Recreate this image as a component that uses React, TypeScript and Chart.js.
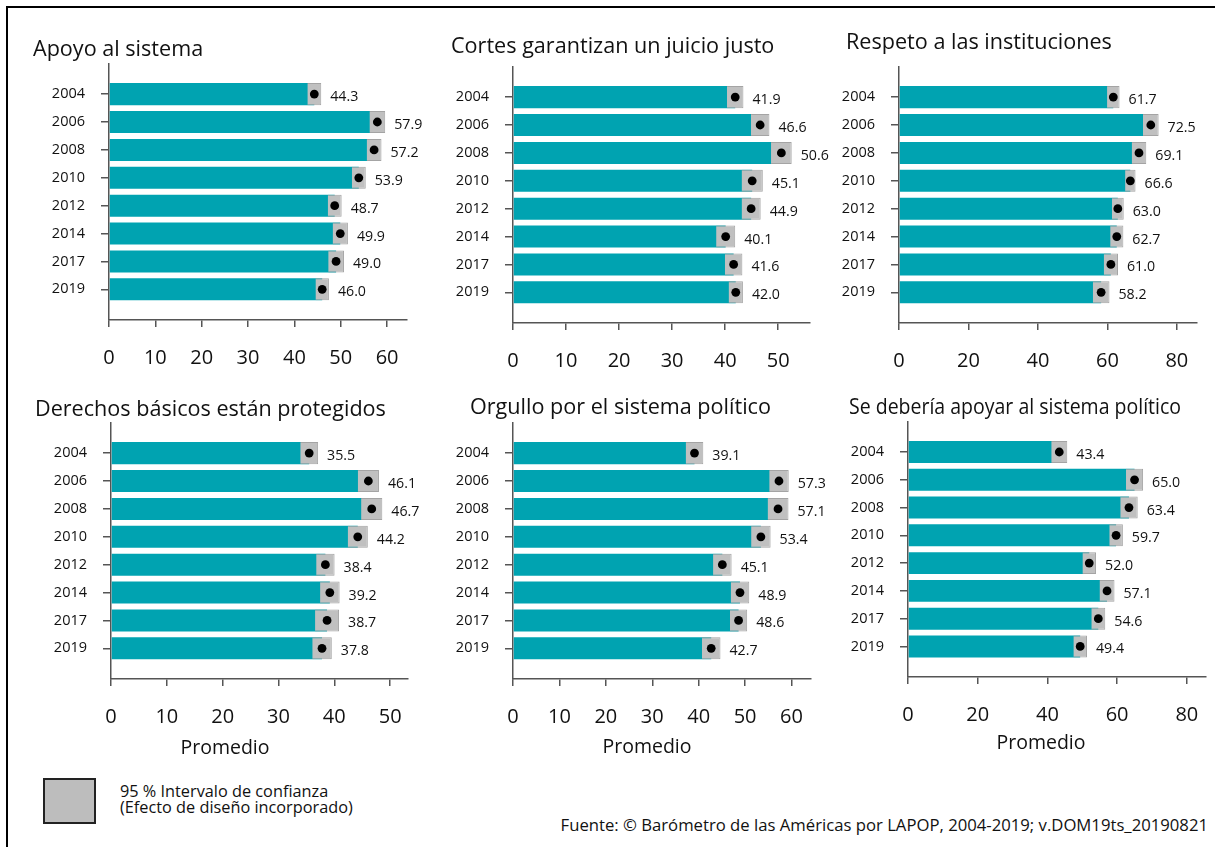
import React, { useEffect, useRef } from 'react';
import { Chart, registerables } from 'chart.js';

Chart.register(...registerables);

const FONT = '"Open Sans", "DejaVu Sans", sans-serif';
Chart.defaults.font.family = FONT;

// ---------- data ----------
const YEARS = ['2004', '2006', '2008', '2010', '2012', '2014', '2017', '2019'];

const APOYO = [44.3, 57.9, 57.2, 53.9, 48.7, 49.9, 49.0, 46.0];
const APOYO_ERR = [1.5, 1.7, 1.6, 1.5, 1.5, 1.65, 1.7, 1.45];

const CORTES = [41.9, 46.6, 50.6, 45.1, 44.9, 40.1, 41.6, 42.0];
const CORTES_ERR = [1.55, 1.75, 1.95, 2.0, 1.8, 1.8, 1.65, 1.35];

const RESPETO = [61.7, 72.5, 69.1, 66.6, 63.0, 62.7, 61.0, 58.2];
const RESPETO_ERR = [1.8, 2.25, 2.1, 1.5, 1.7, 1.9, 2.05, 2.4];

const DERECHOS = [35.5, 46.1, 46.7, 44.2, 38.4, 39.2, 38.7, 37.8];
const DERECHOS_ERR = [1.6, 1.9, 1.9, 1.8, 1.65, 1.75, 2.15, 1.75];

const ORGULLO = [39.1, 57.3, 57.1, 53.4, 45.1, 48.9, 48.6, 42.7];
const ORGULLO_ERR = [1.9, 2.1, 2.25, 2.1, 2.0, 2.0, 1.85, 2.0];

const DEBERIA = [43.4, 65.0, 63.4, 59.7, 52.0, 57.1, 54.6, 49.4];
const DEBERIA_ERR = [2.3, 2.45, 2.5, 1.95, 1.95, 2.15, 2.0, 1.95];

const TICKS_60 = [0, 10, 20, 30, 40, 50, 60];
const TICKS_50 = [0, 10, 20, 30, 40, 50];
const TICKS_80 = [0, 20, 40, 60, 80];

const X_TITLE = 'Promedio';
const LEGEND_TEXT = ['95 % Intervalo de confianza', '(Efecto de diseño incorporado)'];
const SOURCE = 'Fuente: © Barómetro de las Américas por LAPOP, 2004-2019; v.DOM19ts_20190821';

// ---------- layout ----------
type PanelCfg = {
  title: string;
  means: number[];
  errs: number[];
  ticks: number[];
  xMax: number;
  titleX: number;
  titleCY: number;
  titleW?: number;
  left: number;
  right: number;
  top: number;
  bottom: number;
  rowTop: number;
  xH: number;
  promedio?: [number, number];
};

const PANELS: PanelCfg[] = [
  { title: 'Apoyo al sistema', means: APOYO, errs: APOYO_ERR, ticks: TICKS_60, xMax: 64.3,
    titleX: 33, titleCY: 50, left: 109, right: 407, top: 64, bottom: 320, rowTop: 15, xH: 60 },
  { title: 'Cortes garantizan un juicio justo', means: CORTES, errs: CORTES_ERR, ticks: TICKS_50, xMax: 56.0,
    titleX: 451, titleCY: 47, left: 513, right: 810, top: 67, bottom: 323, rowTop: 15, xH: 60 },
  { title: 'Respeto a las instituciones', means: RESPETO, errs: RESPETO_ERR, ticks: TICKS_80, xMax: 85.8,
    titleX: 846, titleCY: 43, left: 899, right: 1197, top: 67, bottom: 323, rowTop: 15, xH: 60 },
  { title: 'Derechos básicos están protegidos', means: DERECHOS, errs: DERECHOS_ERR, ticks: TICKS_50, xMax: 53.2,
    titleX: 35, titleCY: 410, left: 111, right: 408, top: 423, bottom: 679, rowTop: 380, xH: 85, promedio: [225, 748] },
  { title: 'Orgullo por el sistema político', means: ORGULLO, errs: ORGULLO_ERR, ticks: TICKS_60, xMax: 64.2,
    titleX: 470, titleCY: 408, left: 513, right: 811, top: 423, bottom: 679, rowTop: 380, xH: 85, promedio: [647, 747] },
  { title: 'Se debería apoyar al sistema político', means: DEBERIA, errs: DEBERIA_ERR, ticks: TICKS_80, xMax: 85.5,
    titleX: 849, titleCY: 408, titleW: 332, left: 908, right: 1206, top: 422, bottom: 677, rowTop: 380, xH: 85, promedio: [1041, 743] },
];

const TEAL = '#00A3B1';
const GRAY = '#C0C0C0';
const GRAY_BORDER = '#A4A4A4';
const AXIS = '#555555';
const TEXT = '#111111';
const PAD_R = 50;

const panelText = {
  id: 'panelText',
  afterDatasetsDraw(chart: any, _args: any, opts: any) {
    const { ctx } = chart;
    const x = chart.scales.x;
    const y = chart.scales.y;
    ctx.save();
    ctx.fillStyle = TEXT;
    ctx.textBaseline = 'middle';
    ctx.textAlign = 'left';
    // title
    ctx.font = `500 21.6px ${FONT}`;
    if (opts.titleW) ctx.fillText(opts.title, opts.titlePos[0], opts.titlePos[1], opts.titleW);
    else ctx.fillText(opts.title, opts.titlePos[0], opts.titlePos[1]);
    // value labels
    ctx.font = `500 14.2px ${FONT}`;
    (opts.means as number[]).forEach((m, i) => {
      const px = x.getPixelForValue(m + opts.errs[i]) + 9;
      const py = y.getPixelForValue(i + 1) + 3;
      ctx.fillText(m.toFixed(1), px, py);
    });
    if (opts.axisTitle) {
      ctx.font = `500 19.5px ${FONT}`;
      ctx.textAlign = 'center';
      ctx.fillText(X_TITLE, opts.axisTitle[0], opts.axisTitle[1]);
    }
    ctx.restore();
  },
};

function geom(p: PanelCfg) {
  const canvasLeft = Math.min(p.titleX, p.left - 80);
  const canvasTop = p.rowTop;
  const width = p.right + PAD_R - canvasLeft;
  const height = p.bottom + p.xH - canvasTop;
  return { canvasLeft, canvasTop, width, height };
}

function Panel({ p }: { p: PanelCfg }) {
  const ref = useRef<HTMLCanvasElement>(null);
  const g = geom(p);
  useEffect(() => {
    if (!ref.current) return;
    const yW = p.left - g.canvasLeft;
    const chart = new Chart(ref.current, {
      type: 'bar',
      data: {
        datasets: [
          {
            type: 'scatter',
            data: p.means.map((m, i) => ({ x: m, y: i + 1 })),
            pointRadius: 4.4,
            pointBackgroundColor: '#000',
            pointBorderWidth: 0,
            order: 0,
          } as any,
          {
            type: 'bar',
            data: p.means.map((m, i) => ({ x: [m - p.errs[i], m + p.errs[i]], y: i + 1 })),
            backgroundColor: GRAY,
            borderColor: GRAY_BORDER,
            borderWidth: 1,
            grouped: false,
            barPercentage: 0.79,
            categoryPercentage: 1,
            order: 1,
          } as any,
          {
            type: 'bar',
            data: p.means.map((m, i) => ({ x: m, y: i + 1 })),
            backgroundColor: TEAL,
            borderWidth: 0,
            grouped: false,
            barPercentage: 0.79,
            categoryPercentage: 1,
            order: 2,
          } as any,
        ],
      },
      options: {
        indexAxis: 'y',
        responsive: false,
        animation: false,
        events: [],
        layout: { padding: { left: 0, right: PAD_R, top: p.top - g.canvasTop, bottom: 0 } },
        plugins: {
          legend: { display: false },
          tooltip: { enabled: false },
          title: { display: false },
          panelText: {
            title: p.title,
            titlePos: [p.titleX - g.canvasLeft, p.titleCY - g.canvasTop],
            titleW: p.titleW,
            means: p.means,
            errs: p.errs,
            axisTitle: p.promedio ? [p.promedio[0] - g.canvasLeft, p.promedio[1] - g.canvasTop] : null,
          },
        } as any,
        scales: {
          x: {
            type: 'linear',
            offset: false,
            min: 0,
            max: p.xMax,
            afterBuildTicks: (s: any) => { s.ticks = p.ticks.map((v) => ({ value: v })); },
            afterFit: (s: any) => { s.height = p.xH; },
            grid: { offset: false, drawOnChartArea: false, drawTicks: true, tickLength: 7, color: AXIS, lineWidth: 1.5 },
            border: { display: true, color: AXIS, width: 1.5 },
            ticks: { padding: 19, color: TEXT, font: { size: 20 }, maxRotation: 0, autoSkip: false },
          },
          y: {
            type: 'linear',
            offset: false,
            min: -0.08,
            max: 9.1,
            reverse: true,
            afterBuildTicks: (s: any) => { s.ticks = YEARS.map((_, i) => ({ value: i + 1 })); },
            afterFit: (s: any) => { s.width = yW; },
            grid: { offset: false, drawOnChartArea: false, drawTicks: true, tickLength: 8, color: AXIS, lineWidth: 1.5 },
            border: { display: true, color: AXIS, width: 1.5 },
            ticks: {
              padding: 16,
              color: TEXT,
              font: { size: 14.5, weight: '500' },
              autoSkip: false,
              callback: (v: any) => YEARS[Math.round(Number(v)) - 1] ?? '',
            },
          },
        },
      } as any,
      plugins: [panelText],
    });
    return () => chart.destroy();
  }, []);
  return (
    <canvas
      ref={ref}
      width={g.width}
      height={g.height}
      style={{ position: 'absolute', left: g.canvasLeft, top: g.canvasTop, width: g.width, height: g.height }}
    />
  );
}

export default function App() {
  return (
    <div
      style={{
        position: 'fixed',
        left: 0,
        top: 0,
        width: 1215,
        height: 847,
        overflow: 'hidden',
        background: '#fff',
        fontFamily: FONT,
        color: TEXT,
      }}
    >
      <div
        style={{
          position: 'absolute',
          left: 6,
          top: 6,
          width: 1300,
          height: 900,
          border: '2px solid #000',
        }}
      />
      {PANELS.map((p, i) => (
        <Panel key={i} p={p} />
      ))}
      <div
        style={{
          position: 'absolute',
          left: 43,
          top: 778,
          width: 49,
          height: 42,
          background: '#BDBDBD',
          border: '2px solid #222',
        }}
      />
      <div
        style={{
          position: 'absolute',
          left: 120,
          top: 783,
          fontSize: 16.3,
          fontWeight: 500,
          lineHeight: '16px',
          whiteSpace: 'nowrap',
        }}
      >
        <div>{LEGEND_TEXT[0]}</div>
        <div>{LEGEND_TEXT[1]}</div>
      </div>
      <div
        style={{
          position: 'absolute',
          right: 7,
          top: 815,
          fontSize: 16.7,
          fontWeight: 500,
          lineHeight: '20px',
          whiteSpace: 'nowrap',
        }}
      >
        {SOURCE}
      </div>
    </div>
  );
}
